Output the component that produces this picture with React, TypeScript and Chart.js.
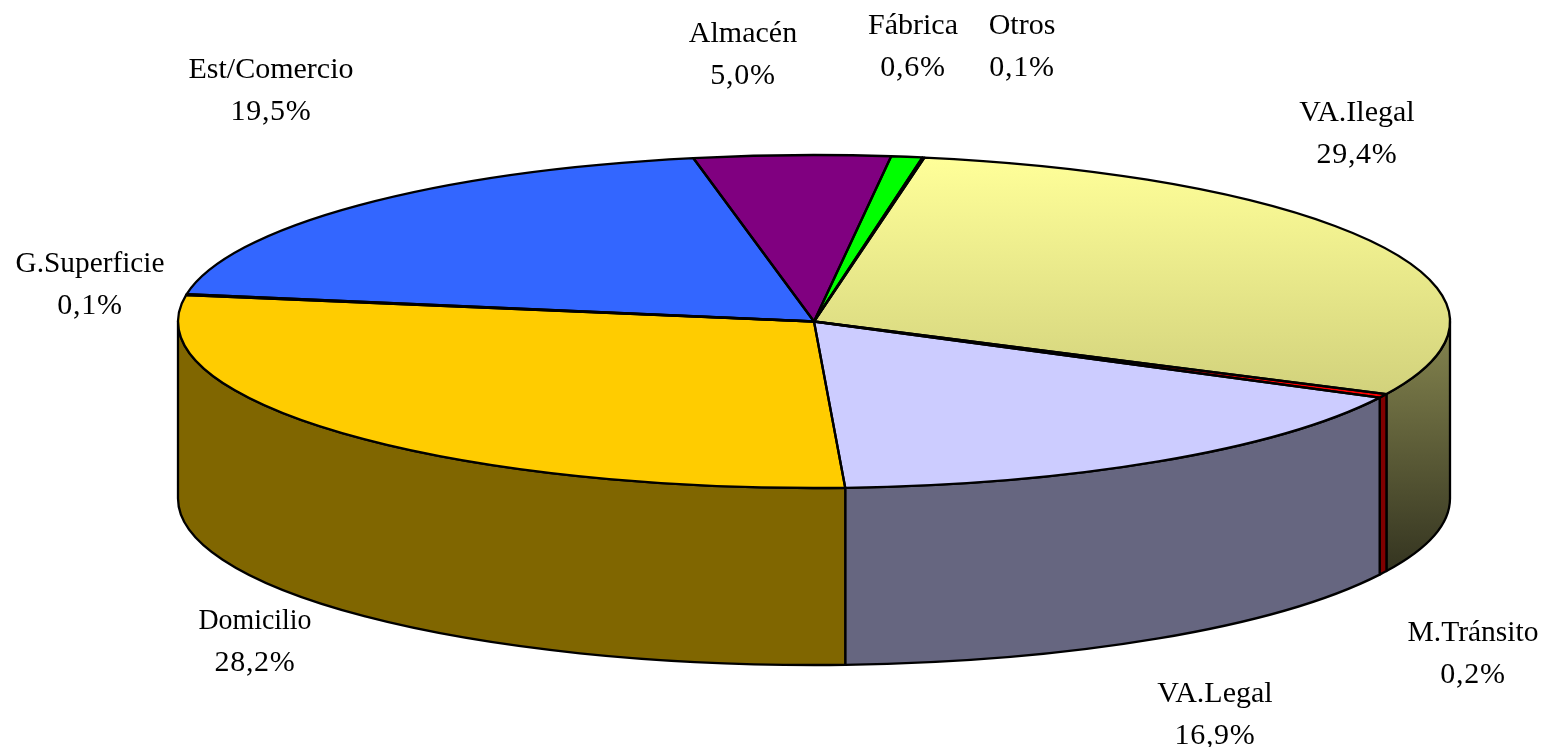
import React, { useEffect, useRef } from "react";
import { Chart, registerables } from "chart.js";

Chart.register(...registerables);

const categories = ["VA.Ilegal", "M.Tránsito", "VA.Legal", "Domicilio", "G.Superficie", "Est/Comercio", "Almacén", "Fábrica", "Otros"];
// Percentages as printed on the chart
const printedShares = ["29,4%", "0,2%", "16,9%", "28,2%", "0,1%", "19,5%", "5,0%", "0,6%", "0,1%"];
// Slice sizes
const sliceValues = [29.36, 0.38, 16.64, 28.28, 0.1, 19.3, 4.97, 0.79, 0.05];
const faceColors = ["#FFFF99", "#FF0000", "#CCCCFF", "#FFCC00", "#33CCCC", "#3366FF", "#800080", "#00FF00", "#000000"];
const wallColors = ["#80804D", "#800000", "#666680", "#806600", "#1A6666", "#1A3380", "#400040", "#008000", "#000000"];

// Text anchors for the category / value label pairs (centre x, baseline of first line)
const labelX = [1357, 1473, 1215, 255, 90, 271, 743, 913, 1022];
const labelY = [121, 641, 702, 629, 272, 78, 42, 34, 34];
// Widest each category label may run
const labelFit = [999, 131, 999, 113, 149, 999, 999, 999, 999];

const CX = 814, CY = 321.5, RX = 636, RY = 166.5, DEPTH = 177;
const LINE = 2.3;
const LABEL_FONT = '30px "Liberation Serif", "Times New Roman", serif';

const arcs = (chart: any) => chart.getDatasetMeta(0).data as any[];

const perspective = {
  id: "perspective",
  beforeDatasetsDraw(chart: any) {
    const ctx: CanvasRenderingContext2D = chart.ctx;
    const list = arcs(chart);
    // side wall: only the front half of the disc shows
    list.forEach((el, i) => {
      const a = Math.max(el.startAngle, 0);
      const b = Math.min(el.endAngle, Math.PI);
      if (b <= a) return;
      let fill: any = wallColors[i];
      if (i === 0) {
        const g = ctx.createLinearGradient(0, CY + 5, 0, CY + 250);
        g.addColorStop(0, "#85854F");
        g.addColorStop(1, "#343420");
        fill = g;
      }
      ctx.beginPath();
      ctx.ellipse(CX, CY, RX, RY, 0, a, b);
      ctx.ellipse(CX, CY + DEPTH, RX, RY, 0, b, a, true);
      ctx.closePath();
      ctx.fillStyle = fill;
      ctx.fill();
      ctx.lineWidth = LINE;
      ctx.lineJoin = "round";
      ctx.strokeStyle = "#000";
      ctx.stroke();
    });
    const { x, y, outerRadius: r } = list[0];
    ctx.save();
    ctx.translate(CX, CY);
    ctx.scale(RX / r, RY / r);
    ctx.translate(-x, -y);
  },
  afterDatasetsDraw(chart: any) {
    const ctx: CanvasRenderingContext2D = chart.ctx;
    ctx.restore();
    arcs(chart).forEach((el) => {
      ctx.beginPath();
      ctx.moveTo(CX, CY);
      ctx.ellipse(CX, CY, RX, RY, 0, el.startAngle, el.endAngle);
      ctx.closePath();
      ctx.lineWidth = LINE;
      ctx.lineJoin = "round";
      ctx.strokeStyle = "#000";
      ctx.stroke();
    });
  },
  afterDraw(chart: any) {
    const ctx: any = chart.ctx;
    ctx.save();
    ctx.font = LABEL_FONT;
    ctx.fillStyle = "#000";
    ctx.textAlign = "center";
    ctx.textBaseline = "alphabetic";
    categories.forEach((name, i) => {
      ctx.letterSpacing = "0px";
      ctx.fillText(name, labelX[i], labelY[i], labelFit[i]);
      ctx.letterSpacing = "0.7px";
      ctx.fillText(printedShares[i], labelX[i], labelY[i] + 42);
    });
    ctx.restore();
  },
};

export default function App() {
  const ref = useRef<HTMLCanvasElement>(null);
  useEffect(() => {
    document.body.style.margin = "0";
    const chart = new Chart(ref.current!, {
      type: "pie",
      data: {
        labels: categories,
        datasets: [
          {
            data: sliceValues,
            borderWidth: 0,
            clip: false,
            backgroundColor: (c: any) => {
              const i = c.dataIndex;
              const area = c.chart.chartArea;
              if (i !== 0 || !area) return faceColors[i];
              const r = Math.min(area.right - area.left, area.bottom - area.top) / 2;
              const my = (area.top + area.bottom) / 2;
              const toChart = (py: number) => my + ((py - CY) * r) / RY;
              const g = c.chart.ctx.createLinearGradient(0, toChart(158), 0, toChart(393));
              g.addColorStop(0, "#FFFF99");
              g.addColorStop(1, "#D2D27C");
              return g;
            },
          } as any,
        ],
      },
      options: {
        responsive: false,
        animation: false,
        rotation: 10,
        layout: { padding: 0 },
        plugins: { legend: { display: false }, tooltip: { enabled: false } },
      },
      plugins: [perspective],
    });
    return () => chart.destroy();
  }, []);
  return <canvas ref={ref} width={1544} height={747} style={{ position: "fixed", left: 0, top: 0, display: "block" }} />;
}
